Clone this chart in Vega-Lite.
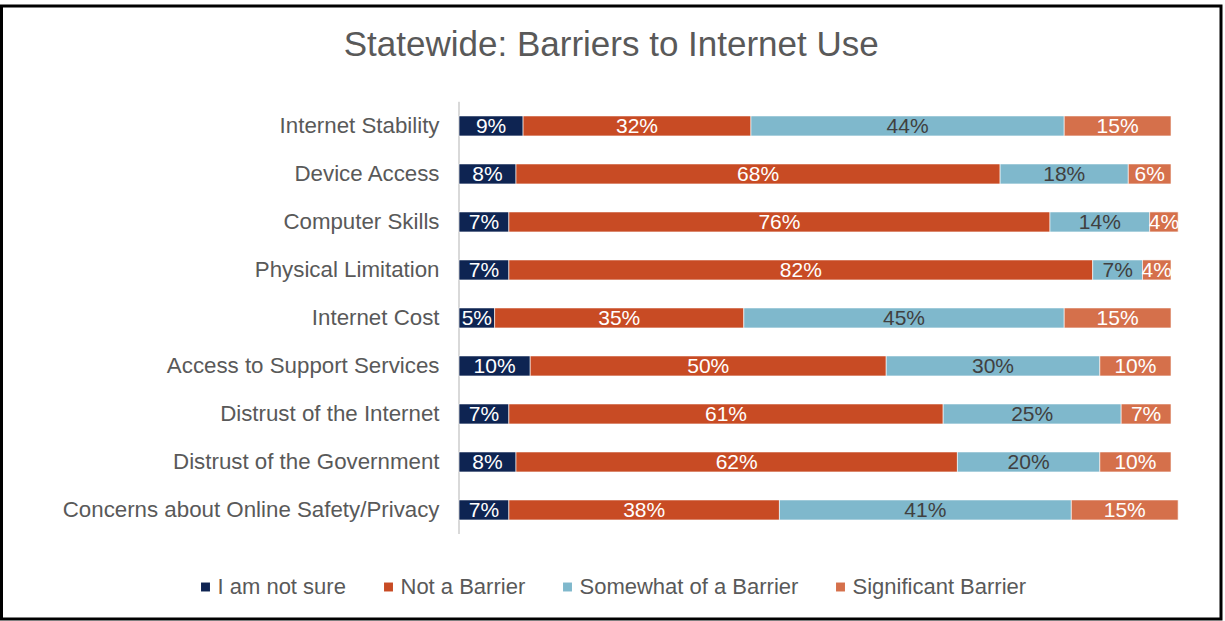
{
  "$schema": "https://vega.github.io/schema/vega-lite/v6.json",
  "autosize": {"type": "fit", "contains": "padding"},
  "width": 1225,
  "height": 621,
  "padding": {"left": 1.5, "top": 6, "right": 4, "bottom": 2},
  "background": "white",
  "config": {
    "view": {"stroke": "black", "strokeWidth": 3},
    "font": "Liberation Sans"
  },
  "title": {
    "text": "Statewide: Barriers to Internet Use",
    "fontSize": 35,
    "font": "Liberation Sans",
    "fontWeight": "normal",
    "color": "#595959",
    "anchor": "middle",
    "baseline": "alphabetic",
    "offset": -85
  },
  "data": {
    "values": [
      {"label": "Internet Stability", "cat": "I am not sure", "k": 1, "v": 0.09},
      {"label": "Internet Stability", "cat": "Not a Barrier", "k": 2, "v": 0.32},
      {"label": "Internet Stability", "cat": "Somewhat of a Barrier", "k": 3, "v": 0.44},
      {"label": "Internet Stability", "cat": "Significant Barrier", "k": 4, "v": 0.15},
      {"label": "Device Access", "cat": "I am not sure", "k": 1, "v": 0.08},
      {"label": "Device Access", "cat": "Not a Barrier", "k": 2, "v": 0.68},
      {"label": "Device Access", "cat": "Somewhat of a Barrier", "k": 3, "v": 0.18},
      {"label": "Device Access", "cat": "Significant Barrier", "k": 4, "v": 0.06},
      {"label": "Computer Skills", "cat": "I am not sure", "k": 1, "v": 0.07},
      {"label": "Computer Skills", "cat": "Not a Barrier", "k": 2, "v": 0.76},
      {"label": "Computer Skills", "cat": "Somewhat of a Barrier", "k": 3, "v": 0.14},
      {"label": "Computer Skills", "cat": "Significant Barrier", "k": 4, "v": 0.04},
      {"label": "Physical Limitation", "cat": "I am not sure", "k": 1, "v": 0.07},
      {"label": "Physical Limitation", "cat": "Not a Barrier", "k": 2, "v": 0.82},
      {"label": "Physical Limitation", "cat": "Somewhat of a Barrier", "k": 3, "v": 0.07},
      {"label": "Physical Limitation", "cat": "Significant Barrier", "k": 4, "v": 0.04},
      {"label": "Internet Cost", "cat": "I am not sure", "k": 1, "v": 0.05},
      {"label": "Internet Cost", "cat": "Not a Barrier", "k": 2, "v": 0.35},
      {"label": "Internet Cost", "cat": "Somewhat of a Barrier", "k": 3, "v": 0.45},
      {"label": "Internet Cost", "cat": "Significant Barrier", "k": 4, "v": 0.15},
      {"label": "Access to Support Services", "cat": "I am not sure", "k": 1, "v": 0.10},
      {"label": "Access to Support Services", "cat": "Not a Barrier", "k": 2, "v": 0.50},
      {"label": "Access to Support Services", "cat": "Somewhat of a Barrier", "k": 3, "v": 0.30},
      {"label": "Access to Support Services", "cat": "Significant Barrier", "k": 4, "v": 0.10},
      {"label": "Distrust of the Internet", "cat": "I am not sure", "k": 1, "v": 0.07},
      {"label": "Distrust of the Internet", "cat": "Not a Barrier", "k": 2, "v": 0.61},
      {"label": "Distrust of the Internet", "cat": "Somewhat of a Barrier", "k": 3, "v": 0.25},
      {"label": "Distrust of the Internet", "cat": "Significant Barrier", "k": 4, "v": 0.07},
      {"label": "Distrust of the Government", "cat": "I am not sure", "k": 1, "v": 0.08},
      {"label": "Distrust of the Government", "cat": "Not a Barrier", "k": 2, "v": 0.62},
      {"label": "Distrust of the Government", "cat": "Somewhat of a Barrier", "k": 3, "v": 0.20},
      {"label": "Distrust of the Government", "cat": "Significant Barrier", "k": 4, "v": 0.10},
      {"label": "Concerns about Online Safety/Privacy", "cat": "I am not sure", "k": 1, "v": 0.07},
      {"label": "Concerns about Online Safety/Privacy", "cat": "Not a Barrier", "k": 2, "v": 0.38},
      {"label": "Concerns about Online Safety/Privacy", "cat": "Somewhat of a Barrier", "k": 3, "v": 0.41},
      {"label": "Concerns about Online Safety/Privacy", "cat": "Significant Barrier", "k": 4, "v": 0.15}
    ]
  },
  "transform": [
    {"stack": "v", "groupby": ["label"], "sort": [{"field": "k", "order": "ascending"}], "as": ["v0", "v1"]},
    {"calculate": "(datum.v0 + datum.v1) / 2", "as": "mid"}
  ],
  "encoding": {
    "y": {
      "field": "label",
      "type": "nominal",
      "sort": null,
      "scale": {
        "domain": [" ", "  ", "Internet Stability", "Device Access", "Computer Skills", "Physical Limitation", "Internet Cost", "Access to Support Services", "Distrust of the Internet", "Distrust of the Government", "Concerns about Online Safety/Privacy", "   ", "    "],
        "paddingInner": 0.5833,
        "paddingOuter": 0.177,
        "align": 0.82
      },
      "axis": {
        "title": null,
        "orient": "left",
        "offset": -457.5,
        "domain": false,
        "ticks": false,
        "grid": false,
        "labelPadding": 20,
        "labelFontSize": 22.3,
        "labelFont": "Liberation Sans",
        "labelColor": "#595959",
        "labelLimit": 500
      }
    }
  },
  "layer": [
    {
      "mark": {"type": "tick", "color": "#D9D9D9", "thickness": 2, "size": 48, "opacity": 1},
      "encoding": {
        "x": {"datum": 0, "type": "quantitative", "scale": {"domain": [-0.6426, 1.0702], "nice": false, "zero": false}, "axis": null}
      }
    },
    {
      "mark": {"type": "bar", "stroke": "white", "strokeWidth": 0.6},
      "encoding": {
        "x": {"field": "v0", "type": "quantitative", "scale": {"domain": [-0.6426, 1.0702], "nice": false, "zero": false}, "axis": null},
        "x2": {"field": "v1"},
        "color": {
          "field": "cat",
          "type": "nominal",
          "sort": null,
          "scale": {
            "domain": ["I am not sure", "Not a Barrier", "Somewhat of a Barrier", "Significant Barrier"],
            "range": ["#0E2452", "#C84B24", "#7FB8CC", "#D5704B"]
          },
          "legend": {
            "title": null,
            "orient": "none",
            "direction": "horizontal",
            "legendX": 193,
            "legendY": 570,
            "symbolType": "square",
            "symbolSize": 80,
            "symbolStrokeWidth": 0,
            "labelFontSize": 22,
            "labelFont": "Liberation Sans",
            "labelColor": "#595959",
            "labelOffset": 1,
            "columnPadding": 31,
            "labelLimit": 400
          }
        }
      }
    },
    {
      "mark": {"type": "text", "fontSize": 21, "font": "Liberation Sans", "baseline": "middle", "dy": 1},
      "encoding": {
        "x": {"field": "mid", "type": "quantitative", "scale": {"domain": [-0.6426, 1.0702], "nice": false, "zero": false}, "axis": null},
        "text": {"field": "v", "type": "quantitative", "format": ".0%"},
        "color": {
          "condition": {"test": "datum.cat === 'Somewhat of a Barrier'", "value": "#404040"},
          "value": "white"
        }
      }
    }
  ]
}
